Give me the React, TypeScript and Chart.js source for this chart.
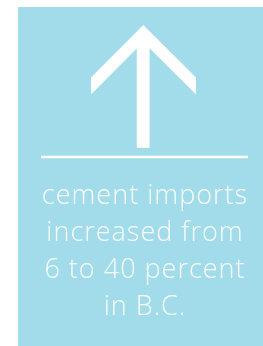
import React, { useEffect, useRef } from "react";
import { Chart, registerables } from "chart.js";

Chart.register(...registerables);

// Infographic values
const startShare = 6;
const endShare = 40;
const region = "B.C.";
const captionLines = [
  "cement imports",
  "increased from",
  `${startShare} to ${endShare} percent`,
  `in ${region}`,
];

// Shapes in a 263 x 346 coordinate space (x right, y down)
const panelX = [18, 263, 263, 18];
const panelY = [7, 7, 346, 346];
const arrowX = [143.3, 196, 196, 149.6, 149.6, 136.8, 136.8, 91, 91];
const arrowY = [25, 77.6, 94.6, 48.3, 147.8, 147.8, 48.6, 94.6, 77.6];
const ruleX = [41, 248];
const ruleY = [157, 157];
const captionCenterX = 145;
const captionBaselines = [203.5, 240.5, 277.5, 314.5];

const W = 263;
const H = 346;
const PANEL = "#a2dcea";
const WHITE = "#ffffff";

const pts = (xs: number[], ys: number[]) => xs.map((x, i) => ({ x, y: ys[i] }));

export default function App() {
  const ref = useRef<HTMLCanvasElement | null>(null);

  useEffect(() => {
    if (!ref.current) return;
    const captionPlugin = {
      id: "caption",
      afterDatasetsDraw(chart: any) {
        const { ctx, scales } = chart;
        ctx.save();
        ctx.fillStyle = "rgba(255,255,255,0.93)";
        ctx.textAlign = "center";
        ctx.textBaseline = "alphabetic";
        ctx.font = "300 27px 'Open Sans', Lato, sans-serif";
        try {
          (ctx as any).letterSpacing = "1px";
        } catch (e) {}
        captionLines.forEach((line, i) => {
          ctx.fillText(
            line,
            scales.x.getPixelForValue(captionCenterX),
            scales.y.getPixelForValue(captionBaselines[i])
          );
        });
        ctx.restore();
      },
    };
    const chart = new Chart(ref.current, {
      type: "line",
      data: {
        datasets: [
          {
            data: pts(ruleX, ruleY),
            borderColor: WHITE,
            borderWidth: 2.6,
            pointRadius: 0,
            fill: false,
            clip: false,
          },
          {
            data: pts(arrowX, arrowY),
            borderColor: WHITE,
            backgroundColor: WHITE,
            borderWidth: 0,
            pointRadius: 0,
            fill: "shape",
            clip: false,
          },
          {
            data: pts(panelX, panelY),
            borderColor: PANEL,
            backgroundColor: PANEL,
            borderWidth: 0,
            pointRadius: 0,
            fill: "shape",
            clip: false,
          },
        ],
      } as any,
      options: {
        responsive: false,
        animation: false,
        devicePixelRatio: 1,
        layout: { padding: 0 },
        elements: { line: { tension: 0 } },
        plugins: {
          legend: { display: false },
          tooltip: { enabled: false },
          title: { display: false },
        },
        scales: {
          x: { type: "linear", min: 0, max: W, display: false },
          y: { type: "linear", min: 0, max: H, reverse: true, display: false },
        },
      } as any,
      plugins: [captionPlugin],
    });
    return () => chart.destroy();
  }, []);

  return (
    <div style={{ position: "fixed", left: 0, top: 0, width: W, height: H }}>
      <canvas ref={ref} width={W} height={H} style={{ display: "block" }} />
    </div>
  );
}
